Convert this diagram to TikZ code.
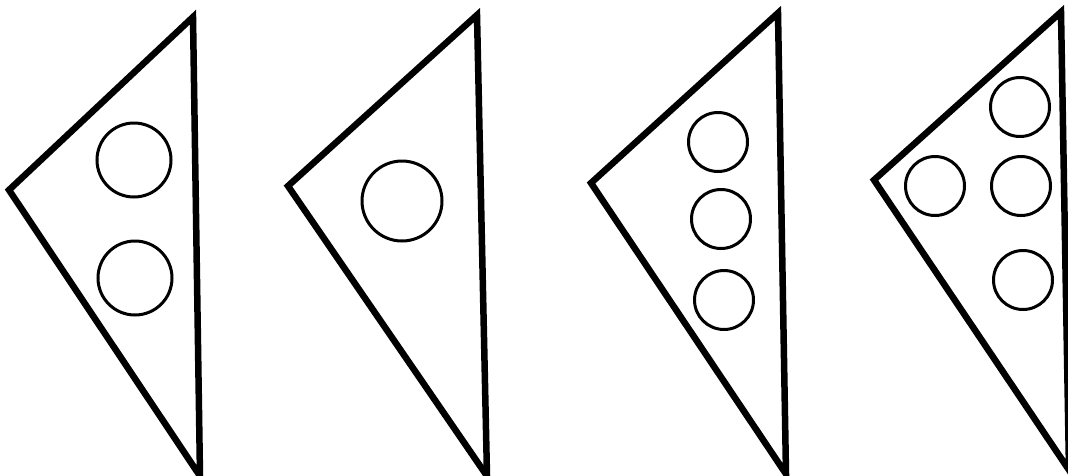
\documentclass[tikz,border=0pt]{standalone}
\begin{document}
\begin{tikzpicture}[x=1pt,y=-1pt,
  tri/.style={draw=black,line width=6.5pt,line join=miter,miter limit=4},
  hole/.style={draw=black,line width=3pt}]
\useasboundingbox (0,0) rectangle (1068,475);
% triangle 1
\draw[tri] (193,17) -- (9,190) -- (200,476) -- cycle;
\draw[hole] (134,160) circle (37);
\draw[hole] (135,278) circle (37);
% triangle 2
\draw[tri] (477,15) -- (288,186) -- (487,476) -- cycle;
\draw[hole] (402,201) circle (40);
% triangle 3
\draw[tri] (778,13) -- (591,183) -- (786,474) -- cycle;
\draw[hole] (718,142) circle (29.5);
\draw[hole] (721,219) circle (29.5);
\draw[hole] (724,300) circle (29.5);
% triangle 4
\draw[tri] (1061,12) -- (874,180) -- (1069,470) -- cycle;
\draw[hole] (935,186) circle (29.5);
\draw[hole] (1020,107) circle (29.5);
\draw[hole] (1021,186) circle (29.5);
\draw[hole] (1023,280) circle (29.5);
\end{tikzpicture}
\end{document}
